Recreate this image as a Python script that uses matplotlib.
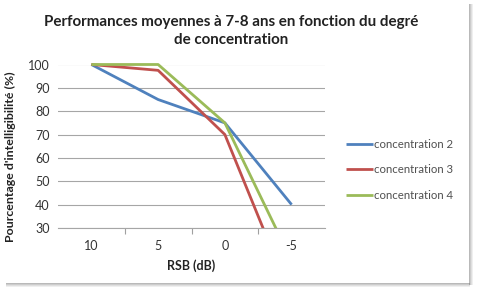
import matplotlib.pyplot as plt
from matplotlib.patches import Rectangle

categories = ["10", "5", "0", "-5"]
conc2 = [100, 85, 75, 40]
conc3 = [100, 97.5, 70, 0]
conc4 = [100, 100, 75, 16]
series = [
    ("concentration 2", conc2, "#4F81BD"),
    ("concentration 3", conc3, "#C0504D"),
    ("concentration 4", conc4, "#9BBB59"),
]
yticks = [30, 40, 50, 60, 70, 80, 90, 100]

plt.rcParams["font.family"] = ["Lato", "DejaVu Sans"]

fig = plt.figure(figsize=(4.8, 2.93), dpi=100)

# frame shadow like the Excel export
for i, a in enumerate([0.55, 0.4, 0.25, 0.12]):
    fig.add_artist(Rectangle(((469 + i) / 480, 8 / 293), 1 / 480, 281 / 293,
                             transform=fig.transFigure, color="#808080", alpha=a, lw=0))
    fig.add_artist(Rectangle((6 / 480, 1 - (284 + i) / 293), 464 / 480, 1 / 293,
                             transform=fig.transFigure, color="#808080", alpha=a, lw=0))

ax = fig.add_axes([58 / 480, 1 - 228 / 293, 267 / 480, 163.5 / 293])
# clip only at the bottom so the lines at 100 are not cut in half
clip = Rectangle((0, 0), 1, 1.1, transform=ax.transAxes, visible=False)
ax.add_patch(clip)
x = list(range(len(categories)))
for name, vals, color in series:
    ln, = ax.plot(x, vals, color=color, lw=2.0, label=name, solid_capstyle="butt")
    ln.set_clip_path(clip)

ax.set_xlim(-0.5, len(categories) - 0.5)
ax.set_ylim(30, 100)
ax.set_yticks(yticks)
ax.set_xticks(x)
ax.set_xticklabels(categories)
ax.set_xticks([0.5, 1.5, 2.5], minor=True)
ax.tick_params(axis="x", which="major", length=0, pad=9, labelsize=9, labelcolor="#333333")
ax.tick_params(axis="x", which="minor", length=4, width=0.8, color="#a0a0a0", direction="out")
ax.tick_params(axis="y", length=0, pad=6, labelsize=9, labelcolor="#333333")
ax.yaxis.grid(True, color="#a6a6a6", lw=0.8)
ax.set_axisbelow(True)
for s in ["top", "right", "left"]:
    ax.spines[s].set_visible(False)
ax.spines["bottom"].set_color("#a6a6a6")
ax.spines["bottom"].set_linewidth(0.8)

ax.set_xlabel("RSB (dB)", fontsize=9, fontweight="bold", color="#222222", labelpad=5)
ax.set_ylabel("Pourcentage d'intelligibilité (%)", fontsize=8.9, fontweight="bold",
              color="#222222")
ax.yaxis.set_label_coords(-0.157, 0.438)

fig.text(231 / 480, 1 - 31 / 293,
         "Performances moyennes à 7-8 ans en fonction du degré\nde concentration",
         ha="center", va="center", fontsize=10.9, fontweight="bold", color="#222222",
         linespacing=1.3)

leg = ax.legend(loc="center left", bbox_to_anchor=(1.06, 0.355), frameon=False,
                fontsize=8.2, handlelength=2.4, handletextpad=0.1, labelspacing=1.3,
                borderaxespad=0)
for t in leg.get_texts():
    t.set_color("#505050")

fig.savefig("out.png", dpi=100, facecolor="white")
